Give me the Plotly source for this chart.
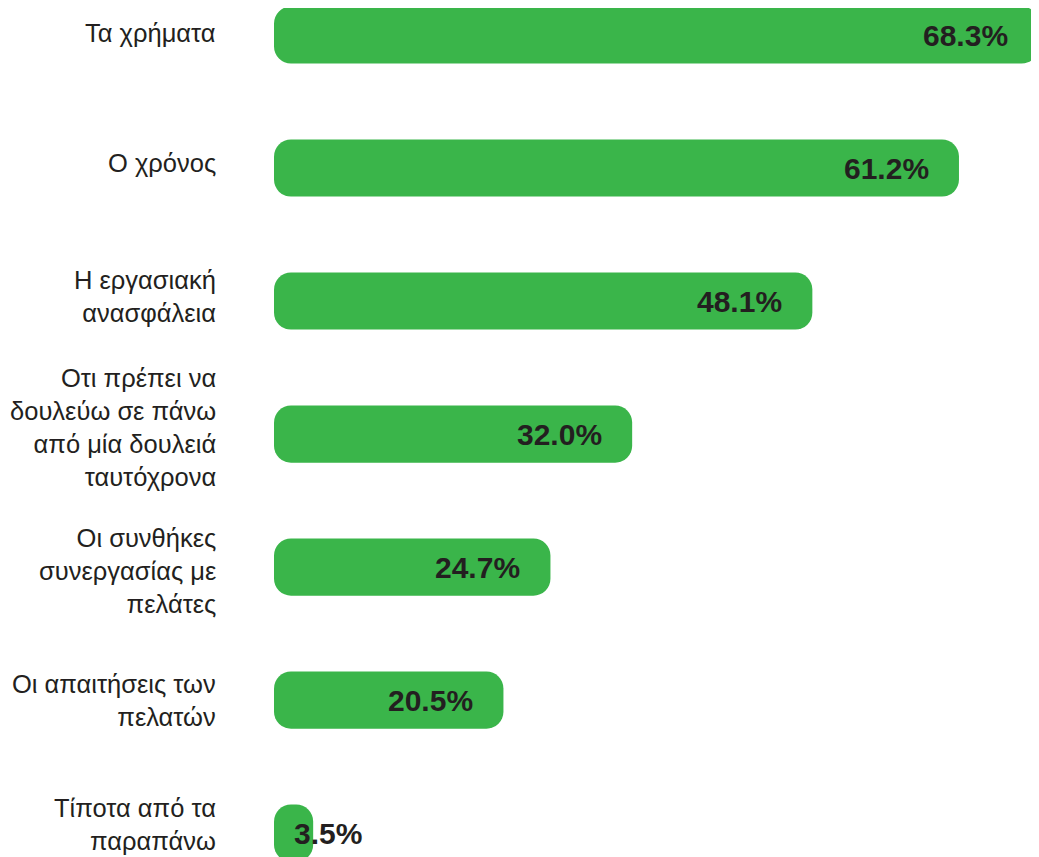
import plotly.graph_objects as go

categories = [
    "Τα χρήματα",
    "Ο χρόνος",
    "Η εργασιακή<br>ανασφάλεια",
    "Οτι πρέπει να<br>δουλεύω σε πάνω<br>από μία δουλειά<br>ταυτόχρονα",
    "Οι συνθήκες<br>συνεργασίας με<br>πελάτες",
    "Οι απαιτήσεις των<br>πελατών",
    "Τίποτα από τα<br>παραπάνω",
]
values = [68.3, 61.2, 48.1, 32.0, 24.7, 20.5, 3.5]
value_labels = [f"{v:.1f}%" for v in values]

# small vertical nudges (px) for the category labels, as placed in the original
label_nudge = [2, 5, 5, 7, -4, 0, 9]

GREEN = "#3AB54A"
DARK = "#231F20"
FONT = "Liberation Sans, Arial, Helvetica, sans-serif"

idx = list(range(len(categories)))

fig = go.Figure()
fig.add_trace(go.Bar(
    y=idx, x=values, base=[0] * len(values), orientation="h",
    marker=dict(color=GREEN, line=dict(width=0), cornerradius=17),
    width=0.43, hovertemplate="%{x}%<extra></extra>", showlegend=False,
    cliponaxis=False,
))

annotations = []
for i, (v, t) in enumerate(zip(values, value_labels)):
    if v > 10:
        annotations.append(dict(x=v, y=i, xref="x", yref="y", text=f"<b>{t}</b>",
                                showarrow=False, xanchor="right", xshift=-28,
                                font=dict(family=FONT, size=30, color=DARK)))
    else:
        annotations.append(dict(x=0, y=i, xref="x", yref="y", text=f"<b>{t}</b>",
                                showarrow=False, xanchor="left", xshift=18,
                                font=dict(family=FONT, size=30, color=DARK)))
for i, c in enumerate(categories):
    annotations.append(dict(x=0, y=i, xref="paper", yref="y", text=c,
                            showarrow=False, xanchor="right", align="right",
                            xshift=-56, yshift=label_nudge[i],
                            font=dict(family=FONT, size=25.5, color=DARK)))

fig.update_layout(
    width=1031, height=849,
    margin=dict(l=266, r=0, t=0, b=0),
    plot_bgcolor="white", paper_bgcolor="white",
    annotations=annotations,
    xaxis=dict(range=[0, 68.35], visible=False, fixedrange=True, automargin=False),
    yaxis=dict(range=[6.18, -0.203], visible=False, fixedrange=True, automargin=False),
    font=dict(family=FONT),
)

fig.write_html("out.html")
